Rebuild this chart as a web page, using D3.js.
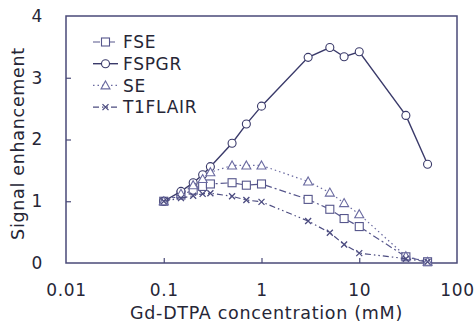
<!DOCTYPE html>
<html>
<head>
<meta charset="utf-8">
<script src="https://cdn.jsdelivr.net/npm/d3@7"></script>
<style>
  body { margin: 0; background: #fff; }
  svg text { font-family: "DejaVu Sans", Verdana, sans-serif; fill: #262636; letter-spacing: 0.7px; }
</style>
</head>
<body>
<svg id="chart"></svg>
<script>
// concentrations (mM) and signal enhancement per sequence
const conc = [0.1, 0.15, 0.2, 0.25, 0.3, 0.5, 0.7, 1, 3, 5, 7, 10, 30, 50];
const fse    = [1.0, 1.1, 1.18, 1.24, 1.28, 1.3, 1.26, 1.28, 1.03, 0.87, 0.72, 0.59, 0.1, 0.02];
const fspgr  = [1.0, 1.16, 1.3, 1.43, 1.56, 1.94, 2.25, 2.54, 3.33, 3.49, 3.34, 3.42, 2.39, 1.6];
const se     = [1.0, 1.12, 1.26, 1.36, 1.47, 1.58, 1.58, 1.58, 1.32, 1.14, 0.97, 0.79, 0.11, 0.02];
const t1flair = [1.0, 1.05, 1.09, 1.12, 1.13, 1.08, 1.02, 0.99, 0.68, 0.49, 0.3, 0.16, 0.07, 0.02];

const seriesNames = ["FSE", "FSPGR", "SE", "T1FLAIR"];
const xTicks = [0.01, 0.1, 1, 10, 100];
const yTicks = [0, 1, 2, 3, 4];

const width = 475, height = 327;
const margin = {top: 16, right: 18, bottom: 64, left: 66};

const svg = d3.select('#chart')
    .attr('width', width)
    .attr('height', height);

const x = d3.scaleLog()
    .domain([0.01, 100])
    .range([margin.left, width - margin.right]);

const y = d3.scaleLinear()
    .domain([0, 4])
    .range([height - margin.bottom, margin.top]);

const axisColor = '#4a4a78';

let series = [
  {name: "FSE", values: fse, dash: '7,3,2,3', marker: 'square', color: '#56568c', width: 1.2},
  {name: "FSPGR", values: fspgr, dash: null, marker: 'circle', color: '#3a3a6a', width: 1.4},
  {name: "SE", values: se, dash: '1.5,3', marker: 'triangle', color: '#6a6aa0', width: 1.2},
  {name: "T1FLAIR", values: t1flair, dash: '6,3,1.5,3,1.5,3', marker: 'cross', color: '#4c4c80', width: 1.2}
];

// frame
svg.append('rect')
    .attr('x', x.range()[0])
    .attr('y', y.range()[1])
    .attr('width', x.range()[1] - x.range()[0])
    .attr('height', y.range()[0] - y.range()[1])
    .style('fill', 'none')
    .style('stroke', axisColor)
    .style('stroke-width', '1.5px');

// axes
let xAxis = d3.axisBottom(x)
    .tickValues(xTicks)
    .tickFormat(d => d3.format('~g')(d))
    .tickSizeInner(-5)
    .tickSizeOuter(0)
    .tickPadding(21);

let gx = svg.append('g')
    .attr('transform', `translate(0,${y.range()[0]})`)
    .call(xAxis);

let yAxis = d3.axisLeft(y)
    .tickValues(yTicks)
    .tickFormat(d3.format('d'))
    .tickSizeInner(-5)
    .tickSizeOuter(0)
    .tickPadding(23);

let gy = svg.append('g')
    .attr('transform', `translate(${x.range()[0]},0)`)
    .call(yAxis);

[gx, gy].forEach(g => {
  g.select('.domain').remove();
  g.selectAll('line').style('stroke', axisColor).style('stroke-width', '1.2px');
  g.selectAll('text')
    .style('font-size', '17px')
    .style('font-family', '"DejaVu Sans", Verdana, sans-serif')
    .style('fill', '#262636');
});
// no tick marks on the frame edges
gx.selectAll('.tick line').filter(d => d === 0.01 || d === 100).remove();
gy.selectAll('.tick line').filter(d => d === 0 || d === 4).remove();

// axis titles
svg.append('text')
    .attr('x', (x.range()[0] + x.range()[1]) / 2 + 5)
    .attr('y', 319)
    .attr('text-anchor', 'middle')
    .style('font-size', '17.5px')
    .text('Gd-DTPA concentration (mM)');

svg.append('text')
    .attr('transform', `translate(24,${(y.range()[0] + y.range()[1]) / 2 + 4}) rotate(-90)`)
    .attr('text-anchor', 'middle')
    .style('font-size', '17.5px')
    .text('Signal enhancement');

// markers
function drawMarker(g, type, color) {
  if (type === 'square') {
    g.append('rect').attr('x', -4).attr('y', -4).attr('width', 8).attr('height', 8)
      .style('fill', '#fff').style('stroke', color).style('stroke-width', '1.1px');
  } else if (type === 'circle') {
    g.append('circle').attr('r', 4)
      .style('fill', '#fff').style('stroke', color).style('stroke-width', '1.1px');
  } else if (type === 'triangle') {
    g.append('path').attr('d', 'M0,-4.5L4.5,3.5L-4.5,3.5Z')
      .style('fill', '#fff').style('stroke', color).style('stroke-width', '1.1px');
  } else {
    g.append('path').attr('d', 'M-3,-3L3,3M-3,3L3,-3')
      .style('fill', 'none').style('stroke', color).style('stroke-width', '1.3px');
  }
}

let line = d3.line()
    .x(d => x(d[0]))
    .y(d => y(d[1]));

series.forEach(s => {
  let pts = conc.map((c, i) => [c, s.values[i]]);
  svg.append('path')
      .datum(pts)
      .attr('d', line)
      .style('fill', 'none')
      .style('stroke', s.color)
      .style('stroke-width', s.width + 'px')
      .style('stroke-dasharray', s.dash);

  svg.selectAll(null)
      .data(pts)
    .enter().append('g')
      .attr('transform', d => `translate(${x(d[0])},${y(d[1])})`)
      .each(function() { drawMarker(d3.select(this), s.marker, s.color); });
});

// legend
let legend = svg.append('g')
    .attr('transform', 'translate(93,42)');

series.forEach((s, i) => {
  let g = legend.append('g').attr('transform', `translate(0,${i * 21.7})`);
  g.append('line')
      .attr('x1', 0).attr('x2', 25)
      .style('stroke', s.color)
      .style('stroke-width', s.width + 'px')
      .style('stroke-dasharray', s.dash);
  drawMarker(g.append('g').attr('transform', 'translate(12.5,0)'), s.marker, s.color);
  g.append('text')
      .attr('x', 30)
      .attr('dy', '0.36em')
      .style('font-size', '17px')
      .text(seriesNames[i]);
});
</script>
</body>
</html>
